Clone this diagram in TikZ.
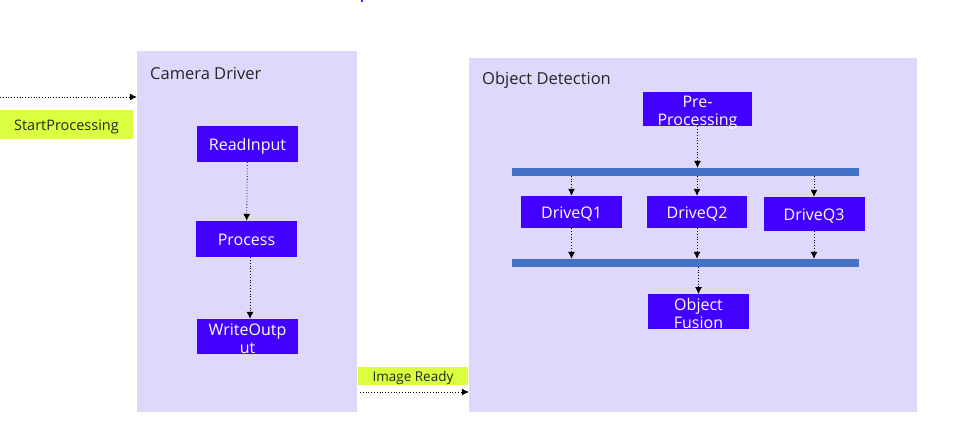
\documentclass[tikz,border=0pt]{standalone}
\usepackage{fontspec}
\setmainfont{Open Sans}
\usetikzlibrary{arrows.meta}
\definecolor{lanefill}{HTML}{DFD8FD}
\definecolor{taskfill}{HTML}{4100FF}
\definecolor{tagfill}{HTML}{DBFF3F}
\definecolor{busfill}{HTML}{4472C4}
\tikzset{
  lane/.style={fill=lanefill,draw=none,inner sep=0},
  lanetitle/.style={anchor=west,inner sep=0,text=black!85,font=\fontsize{16.5}{18}\selectfont},
  task/.style={fill=taskfill,text=white,align=center,inner sep=0,text height=16pt,text depth=4pt,font=\fontsize{16}{18}\selectfont},
  twoline/.style={text height=34pt,text depth=0.5pt},
  tag/.style={fill=tagfill,text=black!85,inner sep=0},
  bus/.style={fill=busfill,inner sep=0,minimum width=347pt,minimum height=7.5pt},
  flow/.style={line width=0.8pt,dotted,-{Latex[length=7pt,width=7pt]}}
}
\begin{document}
\begin{tikzpicture}[x=1pt,y=-1pt]
\useasboundingbox[fill=white] (0,0) rectangle (955,439);
% lanes
\node[lane,minimum width=220pt,minimum height=361pt] (cam) at (247,231.5) {};
\node[lane,minimum width=448pt,minimum height=354pt] (det) at (693,235) {};
\node[lanetitle] (camtitle) at (150,74) {Camera Driver};
\node[lanetitle] (dettitle) at (482,80) {Object Detection};
\fill[blue!80] (361,0) rectangle (363,2);
% camera driver
\node[task,minimum width=101pt,minimum height=36pt] (read) at (247.5,144) {ReadInput};
\node[task,minimum width=101pt,minimum height=36pt] (proc) at (246.5,239) {Process};
\node[task,twoline,minimum width=101pt,minimum height=35pt] (write) at (247.5,336.5) {WriteOutp\\ut};
\draw[flow] (read) -- (proc);
\draw[flow] (proc.south -| 250,0) -- (write.north -| 250,0);
% inputs and outputs
\coordinate (start) at (0,97);
\node[tag,font=\fontsize{14.5}{16}\selectfont,text height=15pt,minimum width=133pt,minimum height=29pt] (starttag) at (66.5,124.5) {StartProcessing};
\draw[flow] (start) -- (start -| cam.west);
\coordinate (ready) at (360,392);
\node[tag,font=\fontsize{13.5}{15}\selectfont,text height=14pt,minimum width=110pt,minimum height=16pt] (readytag) at (413,376) {Image Ready};
\draw[flow] (ready) -- (ready -| det.west);
% object detection
\node[task,twoline,minimum width=109pt,minimum height=32pt] (pre) at (697.5,109) {Pre-\\Processing};
\node[bus] (fork) at (685.5,171.75) {};
\node[bus] (join) at (685.5,262.75) {};
\node[task,minimum width=101pt,minimum height=32pt] (q1) at (571.5,212) {DriveQ1};
\node[task,minimum width=100pt,minimum height=32pt] (q2) at (697,212) {DriveQ2};
\node[task,minimum width=101pt,minimum height=34pt] (q3) at (814,214) {DriveQ3};
\node[task,twoline,minimum width=101pt,minimum height=33pt] (fusion) at (698.5,311.5) {Object\\Fusion};
\draw[flow] (pre) -- (pre |- fork.north);
\foreach \q in {q1,q2,q3} {
  \draw[flow] (\q |- fork.south) -- (\q.north);
  \draw[flow] (\q.south) -- (\q |- join.north);
}
\draw[flow] (join.south -| fusion) -- (fusion);
\end{tikzpicture}
\end{document}
